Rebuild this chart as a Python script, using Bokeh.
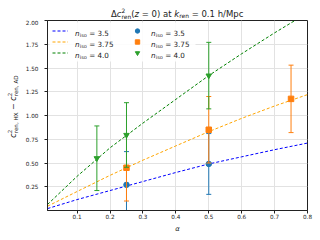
import math
from bokeh.plotting import figure
from bokeh.models import (Label, Legend, LegendItem, FixedTicker, NumeralTickFormatter, Range1d,
                          Div, BoxAnnotation)
from bokeh.layouts import column, row
from bokeh.embed import file_html
from bokeh.resources import INLINE

# ---------------- data ----------------
alpha_grid = [0.01, 0.1, 0.2, 0.3, 0.4, 0.5, 0.6, 0.7, 0.8]
fit_n35 = [0.02, 0.115, 0.21, 0.305, 0.40, 0.49, 0.565, 0.64, 0.71]
fit_n375 = [0.045, 0.20, 0.37, 0.53, 0.68, 0.83, 0.97, 1.10, 1.22]
fit_n40 = [0.063, 0.36, 0.66, 0.92, 1.17, 1.42, 1.65, 1.87, 2.08]

pts_alpha_n35 = [0.25, 0.5]
pts_val_n35 = [0.27, 0.49]
pts_err_n35 = [0.35, 0.32]

pts_alpha_n375 = [0.25, 0.5, 0.75]
pts_val_n375 = [0.45, 0.85, 1.175]
pts_err_n375 = [0.35, 0.35, 0.355]

pts_alpha_n40 = [0.16, 0.25, 0.5]
pts_val_n40 = [0.55, 0.795, 1.42]
pts_err_n40 = [0.34, 0.34, 0.35]

series_labels = ["3.5", "3.75", "4.0"]
x_ticks = [0.1, 0.2, 0.3, 0.4, 0.5, 0.6, 0.7, 0.8]
y_ticks = [0.25, 0.5, 0.75, 1.0, 1.25, 1.5, 1.75, 2.0]

FONT = "DejaVu Sans"
INK = "#222222"

# ---------------- figure ----------------
p = figure(width=298, height=220, output_backend="svg", toolbar_location=None,
           title=None, x_range=Range1d(0.01, 0.8), y_range=Range1d(0.0, 2.0),
           min_border_left=21, min_border_right=13, min_border_top=1, min_border_bottom=29)
p.margin = (0, 0, 0, 0)
p.background_fill_color = "white"
p.border_fill_color = "white"
p.outline_line_color = INK
p.outline_line_width = 1

for ax in (p.xaxis[0], p.yaxis[0]):
    ax.axis_line_color = INK
    ax.major_tick_line_color = INK
    ax.major_tick_in = 0
    ax.major_tick_out = 3
    ax.minor_tick_line_color = None
    ax.major_label_text_font = FONT
    ax.major_label_text_font_size = "5.7px"
    ax.major_label_text_color = INK
p.xaxis[0].major_label_standoff = 0
p.yaxis[0].major_label_standoff = 6
p.xaxis[0].ticker = FixedTicker(ticks=x_ticks)
p.yaxis[0].ticker = FixedTicker(ticks=y_ticks)
p.xaxis[0].formatter = NumeralTickFormatter(format="0.0")
p.yaxis[0].formatter = NumeralTickFormatter(format="0.00")
p.xaxis[0].axis_label = "\u03b1"
p.xaxis[0].axis_label_text_font = FONT
p.xaxis[0].axis_label_text_font_size = "6.8px"
p.xaxis[0].axis_label_text_font_style = "italic"
p.xaxis[0].axis_label_text_color = INK
p.xaxis[0].axis_label_standoff = 3
p.grid.grid_line_color = "#e2e2e2"
p.grid.grid_line_width = 1

FRAME_H = 220 - 1 - 29

# legend background (drawn over the grid, under the data)
p.add_layout(BoxAnnotation(left=2, right=148, top=FRAME_H - 2, bottom=FRAME_H - 41,
                           left_units="screen", right_units="screen",
                           top_units="screen", bottom_units="screen",
                           fill_color="white", fill_alpha=0.9, line_alpha=0,
                           level="underlay"))

line_colors = ["blue", "orange", "green"]
mark_colors = ["#1f77b4", "#ff7f0e", "#2ca02c"]
markers = ["circle", "square", "inverted_triangle"]

fits = [fit_n35, fit_n375, fit_n40]
pts = [(pts_alpha_n35, pts_val_n35, pts_err_n35),
       (pts_alpha_n375, pts_val_n375, pts_err_n375),
       (pts_alpha_n40, pts_val_n40, pts_err_n40)]

line_r = []
for fit, c in zip(fits, line_colors):
    line_r.append(p.line(alpha_grid, fit, line_color=c, line_width=1, line_dash="3 2"))

mark_r = []
for (xa, v, e), c, m in zip(pts, mark_colors, markers):
    lo = [a - b for a, b in zip(v, e)]
    hi = [a + b for a, b in zip(v, e)]
    p.segment(x0=xa, y0=lo, x1=xa, y1=hi, line_color=c, line_width=1)
    p.scatter(xa, lo, marker="dash", size=5, line_color=c, line_width=1)
    p.scatter(xa, hi, marker="dash", size=5, line_color=c, line_width=1)
    mark_r.append(p.scatter(xa, v, marker=m, size=5.5, fill_color=c, line_color=c))

items = [LegendItem(label=" ", renderers=[r]) for r in line_r + mark_r]
legend = Legend(items=items, location="top_left", ncols=2,
                glyph_width=16, glyph_height=11, label_standoff=6, spacing=0,
                padding=3, margin=2, label_width=55, label_height=11,
                label_text_font=FONT, label_text_font_size="7.2px",
                background_fill_alpha=0, border_line_alpha=0)
p.add_layout(legend)

# legend texts: n_iso = value, with italic n and subscript "iso"
S_L = 7.2
SUB_W = (0.278 + 0.521 + 0.612) * 0.7 * S_L
col_x = [27.4, 103.4]
row_y = [177.3, 166.2, 155.0]
for ci in range(2):
    for ri, s in enumerate(series_labels):
        x0, y0 = col_x[ci], row_y[ri]
        parts = [("n", S_L, 0.0, "italic", x0),
                 ("iso", 0.7 * S_L, -0.22 * S_L, "normal", x0 + 0.634 * S_L + 0.3),
                 ("= " + s, S_L, 0.0, "normal", x0 + 0.634 * S_L + SUB_W + 2.6)]
        for txt, fs, rise, style, xx in parts:
            p.add_layout(Label(x=xx, y=y0 + rise, x_units="screen", y_units="screen",
                               text=txt, text_font=FONT, text_font_size=f"{fs:.2f}px",
                               text_font_style=style, text_color=INK,
                               text_baseline="alphabetic", text_align="left"))

# ---------------- title and y label as HTML text ----------------
def sup(t, fs, top):
    return f'<span style="position:relative;top:{top}px;font-size:{fs}px">{t}</span>'


def sub(t, fs, top, ml=0.0):
    return (f'<span style="position:relative;top:{top}px;font-size:{fs}px;'
            f'margin-left:{ml}px">{t}</span>')


title_html = (
    '<div style="font-family:\'DejaVu Sans\';font-size:8.5px;line-height:8.5px;color:#222222;'
    'white-space:nowrap;padding-top:9.5px;padding-left:111px">'
    '\u0394<i>c</i>' + sup("2", 5.95, -3.8) + sub("ren", 5.95, 2.1, -3.78) +
    '(<i>z</i> = 0) at <i>k</i>' + sub("ren", 5.95, 1.7) + ' = 0.1 h/Mpc</div>')
title_div = Div(text=title_html, width=320, height=19, margin=(0, 0, 0, 0))

ylab_html = (
    '<div style="font-family:\'DejaVu Sans\';font-size:8px;line-height:8px;color:#222222;'
    'white-space:nowrap;transform-origin:0 0;transform:translate(10.2px,112.7px) rotate(-90deg)">'
    '<i>c</i>' + sup("2", 5.6, -3.6) + sub("ren, HX", 5.6, 2.0, -3.56) +
    ' \u2212 <i>c</i>' + sup("2", 5.6, -3.6) + sub("ren, AD", 5.6, 2.0, -3.56) + '</div>')
ylab_div = Div(text=ylab_html, width=22, height=220, margin=(0, 0, 0, 0))

layout = column(title_div, row(ylab_div, p, spacing=0), spacing=0)
open("out.html", "w").write(file_html(layout, INLINE))
